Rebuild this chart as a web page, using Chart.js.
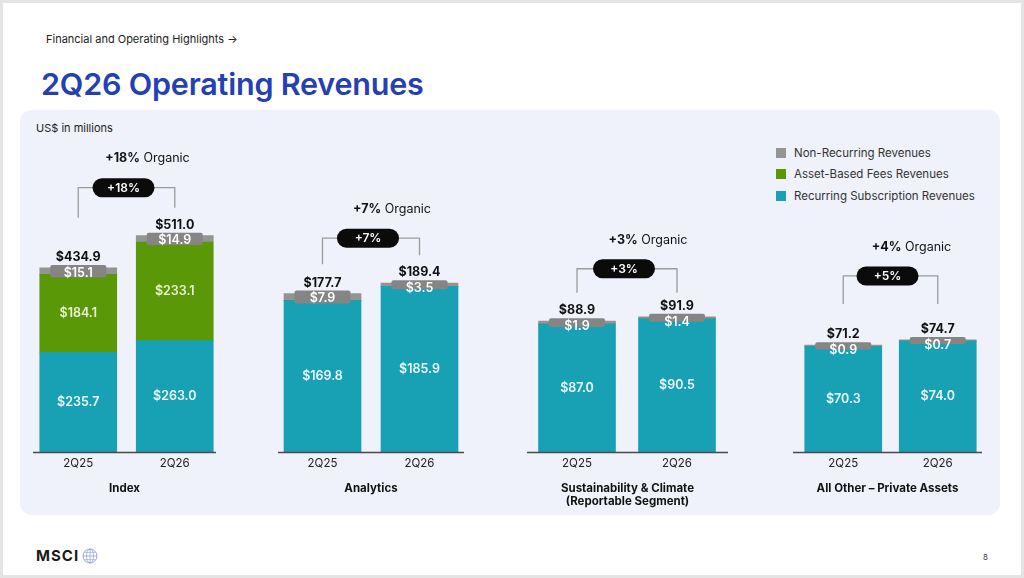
<!DOCTYPE html>
<html>
<head>
<meta charset="utf-8">
<script src="https://cdn.jsdelivr.net/npm/chart.js@4.4.1/dist/chart.umd.min.js"></script>
<style>
  body { margin: 0; width: 1024px; height: 578px; background: #e4e4e4; font-family: Inter, "Noto Sans", sans-serif; position: relative; overflow: hidden; }
  .slide { position: absolute; left: 3px; top: 3px; width: 1018px; height: 572px; background: #fff; }
  .panel { position: absolute; left: 20px; top: 110px; width: 980px; height: 405px; background: #eff1fb; border-radius: 12px; }
  .crumb { position: absolute; left: 46px; top: 32px; font-size: 11px; color: #222; }
  .title { position: absolute; left: 41px; top: 65px; font-size: 30.5px; font-weight: 600; color: #2440b3; letter-spacing: -0.2px; }
  .units { position: absolute; left: 36px; top: 121px; font-size: 11px; color: #222; }
  .legend { position: absolute; left: 776px; top: 142px; font-size: 11.5px; color: #333; }
  .legend div { height: 21.5px; display: flex; align-items: center; }
  .legend span.sw { width: 10px; height: 10px; margin-right: 8px; display: inline-block; }
  canvas { position: absolute; }
  .logo { position: absolute; left: 36px; top: 546px; font-size: 15px; font-weight: 700; color: #1b1b1b; letter-spacing: 1px; display: flex; align-items: center; }
  .logo svg { margin-left: 3px; }
  .page { position: absolute; left: 983px; top: 552px; font-size: 8px; color: #333; }
</style>
</head>
<body>
<div class="slide"></div>
<div class="panel"></div>
<div class="crumb">Financial and Operating Highlights →</div>
<div class="title">2Q26 Operating Revenues</div>
<div class="units">US$ in millions</div>
<div class="legend" id="legend"></div>
<div class="logo">MSCI
  <svg width="16" height="16" viewBox="0 0 16 16">
    <circle cx="8" cy="8" r="7" fill="none" stroke="#9aa7d6" stroke-width="1"/>
    <ellipse cx="8" cy="8" rx="3.5" ry="7" fill="none" stroke="#9aa7d6" stroke-width="0.8"/>
    <line x1="1" y1="8" x2="15" y2="8" stroke="#9aa7d6" stroke-width="0.8"/>
    <line x1="8" y1="1" x2="8" y2="15" stroke="#9aa7d6" stroke-width="0.8"/>
    <line x1="2.2" y1="4.5" x2="13.8" y2="4.5" stroke="#9aa7d6" stroke-width="0.6"/>
    <line x1="2.2" y1="11.5" x2="13.8" y2="11.5" stroke="#9aa7d6" stroke-width="0.6"/>
  </svg>
</div>
<div class="page">8</div>

<script>
// data (US$ millions)
const periods = ['2Q25', '2Q26'];
const segmentNames = ['Index', 'Analytics', 'Sustainability & Climate\n(Reportable Segment)', 'All Other – Private Assets'];
const recurringSub = [[235.7, 263.0], [169.8, 185.9], [87.0, 90.5], [70.3, 74.0]];
const assetBased = [[184.1, 233.1], [0, 0], [0, 0], [0, 0]];
const nonRecurring = [[15.1, 14.9], [7.9, 3.5], [1.9, 1.4], [0.9, 0.7]];
const totals = [[434.9, 511.0], [177.7, 189.4], [88.9, 91.9], [71.2, 74.7]];
const growthReported = ['+18%', '+7%', '+3%', '+5%'];
const growthOrganic = ['+18%', '+7%', '+3%', '+4%'];

const seriesNames = ['Non-Recurring Revenues', 'Asset-Based Fees Revenues', 'Recurring Subscription Revenues'];
const colors = { rec: '#18a1b4', asset: '#5b9808', non: '#949494', nonBox: '#858585' };

// layout per segment panel (chart area left/width, baseline extents, y range)
const boxes = [
  { left: 30, width: 193, axisL: 33, axisR: 216, yMax: 737 },
  { left: 274, width: 194, axisL: 278, axisR: 464, yMax: 350 },
  { left: 527, width: 200, axisL: 527, axisR: 728, yMax: 212 },
  { left: 796, width: 189, axisL: 793, axisR: 982, yMax: 208 }
];
const bracket = [
  { pill: 48, legL: 18, legR: 28 },
  { pill: 45, legL: 19, legR: 28 },
  { pill: 48, legL: 24, legR: 24 },
  { pill: 64, legL: 36, legR: 36 }
];
const TOP = 140, HEIGHT = 380, PAD_BOTTOM = 68, SIDE = 8;

// legend
const legendEl = document.getElementById('legend');
[colors.non, colors.asset, colors.rec].forEach((c, i) => {
  const row = document.createElement('div');
  row.innerHTML = `<span class="sw" style="background:${c}"></span>${seriesNames[i]}`;
  legendEl.appendChild(row);
});

function roundRect(ctx, x, y, w, h, r) {
  ctx.beginPath();
  ctx.moveTo(x + r, y);
  ctx.arcTo(x + w, y, x + w, y + h, r);
  ctx.arcTo(x + w, y + h, x, y + h, r);
  ctx.arcTo(x, y + h, x, y, r);
  ctx.arcTo(x, y, x + w, y, r);
  ctx.closePath();
}

const FONT = 'Inter, "Noto Sans", sans-serif';

const labelPlugin = {
  id: 'segLabels',
  afterDatasetsDraw(chart) {
    const g = chart.options.plugins.segLabels.group;
    const box = boxes[g];
    const ctx = chart.ctx;
    const area = chart.chartArea;
    const xs = chart.scales.x, ys = chart.scales.y;
    const canvasLeft = box.left - SIDE;
    ctx.save();
    ctx.textAlign = 'center';
    ctx.textBaseline = 'middle';

    // baseline
    ctx.strokeStyle = '#4a4a4a';
    ctx.lineWidth = 1.5;
    ctx.beginPath();
    ctx.moveTo(box.axisL - canvasLeft, area.bottom + 0.5);
    ctx.lineTo(box.axisR - canvasLeft, area.bottom + 0.5);
    ctx.stroke();

    const recMeta = chart.getDatasetMeta(0);
    const assetMeta = chart.getDatasetMeta(1);
    const nonMeta = chart.getDatasetMeta(2);

    periods.forEach((p, i) => {
      const bx = recMeta.data[i].x;
      // recurring
      const r = recMeta.data[i];
      ctx.font = `600 12.5px ${FONT}`;
      ctx.fillStyle = '#eef9fb';
      ctx.fillText('$' + recurringSub[g][i].toFixed(1), bx, (r.y + r.base) / 2);
      // asset-based
      if (assetBased[g][i] > 0) {
        const a = assetMeta.data[i];
        ctx.fillStyle = '#e8f4d6';
        ctx.fillText('$' + assetBased[g][i].toFixed(1), bx, (a.y + a.base) / 2);
      }
      // non-recurring box
      const n = nonMeta.data[i];
      const segH = n.base - n.y;
      ctx.fillStyle = colors.nonBox;
      roundRect(ctx, bx - 28, n.y - 3, 56, Math.min(13, segH + 6), 2);
      ctx.fill();
      ctx.fillStyle = '#ffffff';
      ctx.fillText('$' + nonRecurring[g][i].toFixed(1), bx, n.y + 5);
      // total
      ctx.font = `700 12.5px ${FONT}`;
      ctx.fillStyle = '#111';
      ctx.fillText('$' + totals[g][i].toFixed(1), bx, ys.getPixelForValue(totals[g][i]) - 10.5);
      // period tick
      ctx.font = `400 11.5px ${FONT}`;
      ctx.fillStyle = '#222';
      ctx.fillText(p, xs.getPixelForValue(i), area.bottom + 12);
    });

    // segment title
    ctx.font = `700 11.5px ${FONT}`;
    ctx.fillStyle = '#111';
    const midX = (box.axisL + box.axisR) / 2 - canvasLeft;
    segmentNames[g].split('\n').forEach((line, k) => {
      ctx.fillText(line, midX, area.bottom + 37 + k * 12.5);
    });

    // growth bracket
    const xL = recMeta.data[0].x, xR = recMeta.data[1].x;
    const yR = ys.getPixelForValue(totals[g][1]);
    const b = bracket[g];
    const py = yR - b.pill;
    const mid = (xL + xR) / 2;
    ctx.strokeStyle = '#9c9c9c';
    ctx.lineWidth = 1.3;
    ctx.beginPath();
    ctx.moveTo(xL, yR - b.legL);
    ctx.lineTo(xL, py);
    ctx.lineTo(xR, py);
    ctx.lineTo(xR, yR - b.legR);
    ctx.stroke();
    ctx.fillStyle = '#0b0b0b';
    roundRect(ctx, mid - 3 - 31, py - 9.5, 62, 19, 9.5);
    ctx.fill();
    ctx.fillStyle = '#fff';
    ctx.font = `600 12px ${FONT}`;
    ctx.fillText(growthReported[g], mid - 3, py + 0.5);

    // organic text
    const boldTxt = growthOrganic[g];
    const normTxt = ' Organic';
    ctx.font = `700 12.5px ${FONT}`;
    const w1 = ctx.measureText(boldTxt).width;
    ctx.font = `400 12.5px ${FONT}`;
    const w2 = ctx.measureText(normTxt).width;
    const ox = mid + 21 - (w1 + w2) / 2;
    const oy = py - 29;
    ctx.textAlign = 'left';
    ctx.fillStyle = '#111';
    ctx.font = `700 12.5px ${FONT}`;
    ctx.fillText(boldTxt, ox, oy);
    ctx.font = `400 12.5px ${FONT}`;
    ctx.fillText(normTxt, ox + w1, oy);
    ctx.restore();
  }
};

boxes.forEach((box, g) => {
  const cv = document.createElement('canvas');
  const w = box.width + SIDE * 2;
  cv.width = w;
  cv.height = HEIGHT;
  cv.style.left = (box.left - SIDE) + 'px';
  cv.style.top = TOP + 'px';
  cv.style.width = w + 'px';
  cv.style.height = HEIGHT + 'px';
  document.body.appendChild(cv);

  new Chart(cv, {
    type: 'bar',
    data: {
      labels: periods,
      datasets: [
        { label: seriesNames[2], data: recurringSub[g], backgroundColor: colors.rec },
        { label: seriesNames[1], data: assetBased[g], backgroundColor: colors.asset },
        { label: seriesNames[0], data: nonRecurring[g], backgroundColor: colors.non }
      ]
    },
    options: {
      responsive: false,
      animation: false,
      layout: { padding: { top: 0, bottom: PAD_BOTTOM, left: SIDE, right: SIDE } },
      datasets: { bar: { barThickness: 77, borderWidth: 0 } },
      scales: {
        x: { stacked: true, display: false },
        y: { stacked: true, display: false, min: 0, max: box.yMax }
      },
      plugins: {
        legend: { display: false },
        tooltip: { enabled: false },
        segLabels: { group: g }
      }
    },
    plugins: [labelPlugin]
  });
});
</script>
</body>
</html>
